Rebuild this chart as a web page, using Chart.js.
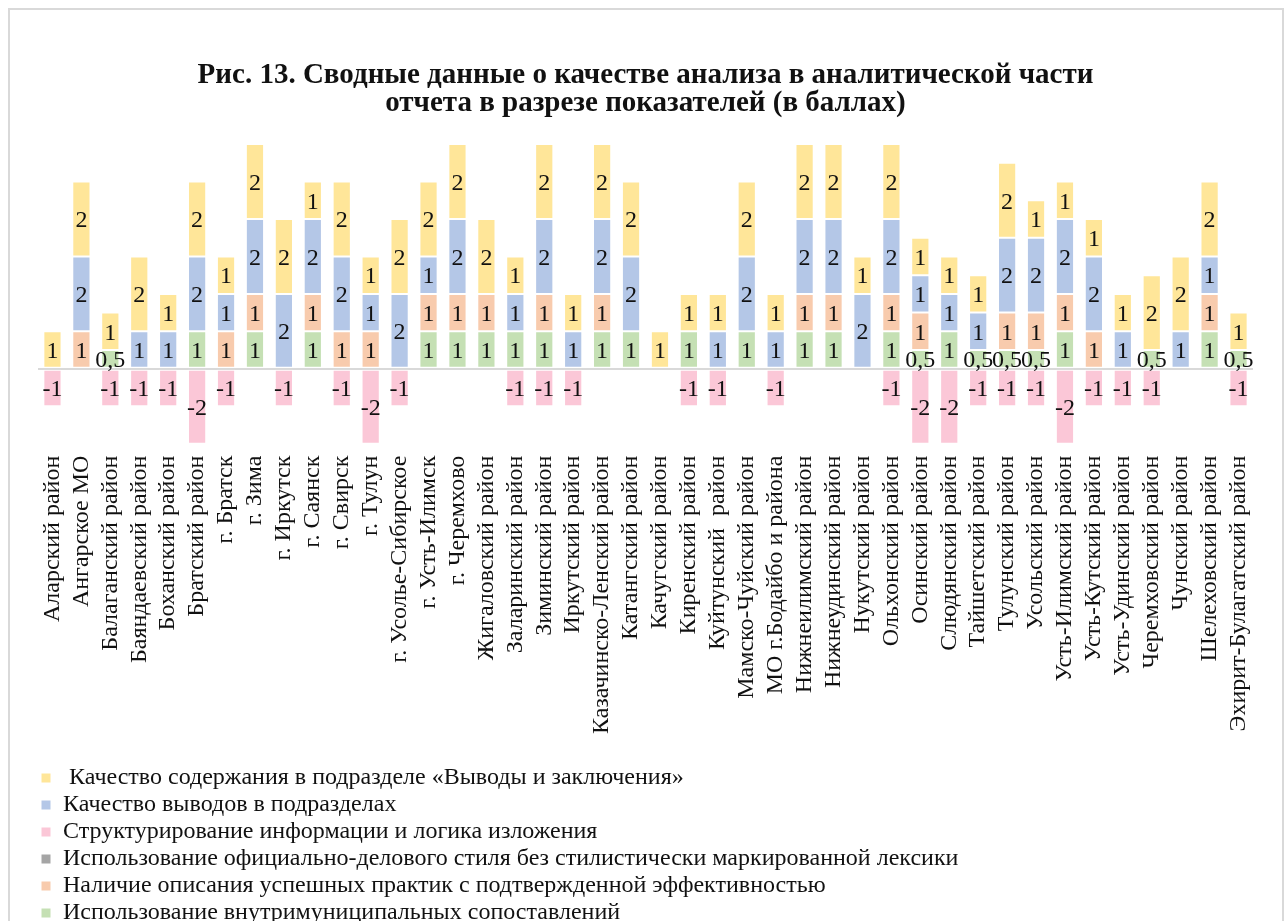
<!DOCTYPE html>
<html>
<head>
<meta charset="utf-8">
<script src="https://cdn.jsdelivr.net/npm/chart.js@4.4.0/dist/chart.umd.min.js"></script>
<style>
    body { margin: 0; overflow: hidden; background: #fff; }
    #wrap { position: absolute; left: 0; top: 0; width: 1284px; height: 935px; }
    #frame { position: absolute; left: 8px; top: 8px; width: 1272px; height: 960px; border: 2px solid #d9d9d9; pointer-events: none; }
</style>
</head>
<body>
<div id="wrap"><canvas id="myPlot"></canvas></div>
<div id="frame"></div>
<script>
const regions = ["Аларский район", "Ангарское МО", "Балаганский район", "Баяндаевский район", "Боханский район",
    "Братский район", "г. Братск", "г. Зима", "г. Иркутск", "г. Саянск", "г. Свирск", "г. Тулун",
    "г. Усолье-Сибирское", "г. Усть-Илимск", "г. Черемхово", "Жигаловский район", "Заларинский район",
    "Зиминский район", "Иркутский район", "Казачинско-Ленский район", "Катангский район", "Качугский район",
    "Киренский район", "Куйтунский  район", "Мамско-Чуйский район", "МО г.Бодайбо и района",
    "Нижнеилимский район", "Нижнеудинский район", "Нукутский район", "Ольхонский район", "Осинский район",
    "Слюдянский район", "Тайшетский район", "Тулунский район", "Усольский район", "Усть-Илимский район",
    "Усть-Кутский район", "Усть-Удинский район", "Черемховский район", "Чунский район", "Шелеховский район",
    "Эхирит-Булагатский район"];

// стек снизу вверх
const sravneniya = [0,0,0.5,0,0,1,0,1,0,1,0,0,0,1,1,1,1,1,0,1,1,0,1,0,1,0,1,1,0,1,0.5,1,0.5,0.5,0.5,1,0,0,0.5,0,1,0.5];
const praktiki   = [0,1,0,0,0,0,1,1,0,1,1,1,0,1,1,1,0,1,0,1,0,0,0,0,0,0,1,1,0,1,1,0,0,1,1,1,1,0,0,0,1,0];
const stil       = [0,0,0,0,0,0,0,0,0,0,0,0,0,0,0,0,0,0,0,0,0,0,0,0,0,0,0,0,0,0,0,0,0,0,0,0,0,0,0,0,0,0];
const struktura  = [-1,0,-1,-1,-1,-2,-1,0,-1,0,-1,-2,-1,0,0,0,-1,-1,-1,0,0,0,-1,-1,0,-1,0,0,0,-1,-2,-2,-1,-1,-1,-2,-1,-1,-1,0,0,-1];
const vyvody     = [0,2,0,1,1,2,1,2,2,2,2,1,2,1,2,0,1,2,1,2,2,0,0,1,2,1,2,2,2,2,1,1,1,2,2,2,2,1,0,1,1,0];
const soderzhanie= [1,2,1,2,1,2,1,2,2,1,2,1,2,2,2,2,1,2,1,2,2,1,1,1,2,1,2,2,1,2,1,1,1,2,1,1,1,1,2,2,2,1];

const seriesNames = ["Использование внутримуниципальных сопоставлений",
    "Наличие описания успешных практик с подтвержденной эффективностью",
    "Использование официально-делового стиля без стилистически маркированной лексики",
    "Структурирование информации и логика изложения",
    "Качество выводов в подразделах",
    " Качество содержания в подразделе «Выводы и заключения»"];
const seriesData = [sravneniya, praktiki, stil, struktura, vyvody, soderzhanie];
const colors = ['#c5e0b4', '#f8cbad', '#a5a5a5', '#fbc7d7', '#b4c7e7', '#ffe699'];

const serif = "'Liberation Serif', 'Times New Roman', serif";
// хвост из пробелов, чтобы каждый пункт легенды шёл отдельной строкой
const legendTail = '\u00a0'.repeat(110);

// подписи значений по центру сегментов
const valueLabels = {
    id: 'valueLabels',
    afterDatasetsDraw(chart) {
        const ctx = chart.ctx;
        ctx.save();
        ctx.font = "24px " + serif;
        ctx.fillStyle = '#111';
        ctx.textAlign = 'center';
        ctx.textBaseline = 'middle';
        chart.data.datasets.forEach((ds, i) => {
            chart.getDatasetMeta(i).data.forEach((bar, j) => {
                const v = ds.data[j];
                if (!v) return;
                ctx.fillText(String(v).replace('.', ','), bar.x, (bar.y + bar.base) / 2 + 2);
            });
        });
        ctx.restore();
    }
};

const datasets = seriesData.map((d, i) => ({
    label: seriesNames[i],
    data: d,
    backgroundColor: colors[i],
    borderColor: '#fff',
    borderWidth: 1,
    borderSkipped: false,
    categoryPercentage: 1,
    barPercentage: 0.63
}));

new Chart("myPlot", {
    type: 'bar',
    data: { labels: regions, datasets: datasets },
    options: {
        responsive: true,
        maintainAspectRatio: false,
        animation: false,
        layout: { padding: { left: 38, right: 31, top: 0, bottom: 0 } },
        plugins: {
            title: {
                display: true,
                text: ["Рис. 13. Сводные данные о качестве анализа в аналитической части",
                    "отчета в разрезе показателей (в баллах)"],
                color: '#111',
                font: { family: serif, size: 29, weight: 'bold', lineHeight: 0.95 },
                padding: { top: 62, bottom: 27 }
            },
            legend: {
                position: 'bottom',
                align: 'start',
                reverse: true,
                labels: {
                    color: '#111',
                    font: { family: serif, size: 24 },
                    boxWidth: 10,
                    boxHeight: 10,
                    padding: 3,
                    generateLabels(chart) {
                        const items = Chart.defaults.plugins.legend.labels.generateLabels(chart);
                        items.forEach(it => { it.text = it.text + legendTail; });
                        return items;
                    }
                }
            },
            tooltip: { enabled: false }
        },
        scales: {
            x: {
                stacked: true,
                grid: { display: false },
                border: { display: false },
                ticks: {
                    color: '#111',
                    font: { family: serif, size: 24 },
                    minRotation: 90,
                    maxRotation: 90,
                    autoSkip: false,
                    padding: 4
                },
                afterFit(scale) {
                    scale.height += 25;
                }
            },
            y: {
                stacked: true,
                min: -2,
                max: 6,
                border: { display: false },
                ticks: { display: false, stepSize: 1 },
                grid: {
                    drawTicks: false,
                    lineWidth: 2,
                    color: c => c.tick.value === 0 ? '#d9d9d9' : 'transparent'
                }
            }
        }
    },
    plugins: [valueLabels]
});
</script>
</body>
</html>
